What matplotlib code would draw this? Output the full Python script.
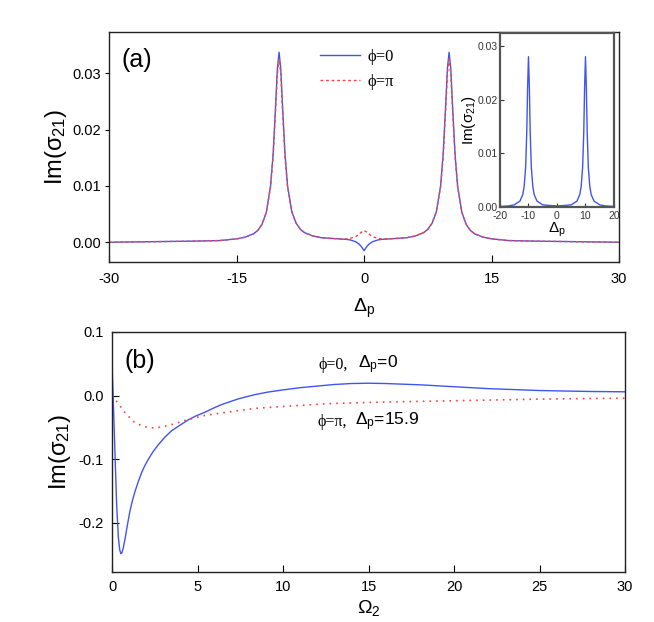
import numpy as np
import matplotlib
matplotlib.use("Agg")
import matplotlib.pyplot as plt
from matplotlib.ticker import FormatStrFormatter

plt.rcParams['font.family'] = ['Liberation Sans', 'DejaVu Sans']
plt.rcParams['mathtext.fontset'] = 'custom'
plt.rcParams['mathtext.rm'] = 'Liberation Sans'
plt.rcParams['mathtext.it'] = 'Liberation Sans'
plt.rcParams['axes.unicode_minus'] = False

# ---- panel (a): Im(sigma21) vs Delta_p ----
delta_a = [-30, -25, -20, -17, -15, -14, -13, -12.5, -12, -11.5, -11, -10.7, -10.4, -10.2, -10,
           -9.8, -9.6, -9.3, -9, -8.5, -8, -7.5, -7, -6, -5, -4, -3, -2, -1.6, -1, -0.6, -0.3, 0,
           0.3, 0.6, 1, 1.6, 2, 3, 4, 5, 6, 7, 7.5, 8, 8.5, 9, 9.3, 9.6, 9.8,
           10, 10.2, 10.4, 10.7, 11, 11.5, 12, 12.5, 13, 14, 15, 17, 20, 25, 30]
im_phi0 = [0.0000, 0.0001, 0.0002, 0.0003, 0.0006, 0.0009, 0.0015, 0.0021, 0.0032, 0.0053, 0.0100,
           0.0156, 0.0244, 0.0308, 0.0337,
           0.0308, 0.0244, 0.0156, 0.0100, 0.0054, 0.0034, 0.0023, 0.0017, 0.0011, 0.0008, 0.0007,
           0.0006, 0.0005, 0.0004, 0.0001, -0.0003, -0.0008, -0.0015,
           -0.0008, -0.0003, 0.0001, 0.0004, 0.0005, 0.0006, 0.0007, 0.0008, 0.0011, 0.0017, 0.0023,
           0.0034, 0.0054, 0.0100, 0.0156, 0.0244, 0.0308,
           0.0337, 0.0308, 0.0244, 0.0156, 0.0100, 0.0053, 0.0032, 0.0021, 0.0015, 0.0009, 0.0006,
           0.0003, 0.0002, 0.0001, 0.0000]
im_phipi = [0.0000, 0.0001, 0.0002, 0.0003, 0.0006, 0.0009, 0.0015, 0.0021, 0.0032, 0.0053, 0.0098,
            0.0152, 0.0237, 0.0298, 0.0325,
            0.0298, 0.0237, 0.0152, 0.0098, 0.0054, 0.0034, 0.0023, 0.0017, 0.0011, 0.0008, 0.0007,
            0.0006, 0.0006, 0.0007, 0.0010, 0.0014, 0.0018, 0.0021,
            0.0018, 0.0014, 0.0010, 0.0007, 0.0006, 0.0006, 0.0007, 0.0008, 0.0011, 0.0017, 0.0023,
            0.0034, 0.0054, 0.0098, 0.0152, 0.0237, 0.0298,
            0.0325, 0.0298, 0.0237, 0.0152, 0.0098, 0.0053, 0.0032, 0.0021, 0.0015, 0.0009, 0.0006,
            0.0003, 0.0002, 0.0001, 0.0000]

# inset
delta_in = [-20, -17, -15, -13, -12, -11.5, -11, -10.6, -10.3, -10, -9.7, -9.4, -9, -8.5, -8, -7,
            -5, -3, 0, 3, 5, 7, 8, 8.5, 9, 9.4, 9.7, 10, 10.3, 10.6, 11, 11.5, 12, 13, 15, 17, 20]
im_in = [0.0001, 0.0002, 0.0004, 0.0011, 0.0023, 0.0039, 0.0074, 0.0140, 0.0224, 0.0280, 0.0224,
         0.0140, 0.0074, 0.0039, 0.0023, 0.0011, 0.0004, 0.0003, 0.0002, 0.0003, 0.0004, 0.0011,
         0.0023, 0.0039, 0.0074, 0.0140, 0.0224, 0.0280, 0.0224, 0.0140, 0.0074, 0.0039, 0.0023,
         0.0011, 0.0004, 0.0002, 0.0001]

# ---- panel (b): Im(sigma21) vs Omega_2 ----
omega_b0 = [0, 0.09, 0.18, 0.27, 0.37, 0.45, 0.51, 0.57, 0.65, 0.76, 0.9, 1.05, 1.2, 1.35, 1.55,
            1.73, 1.9, 2.12, 2.4, 2.71, 3.1, 3.49, 4.0, 4.46, 4.9, 5.44, 5.9, 6.41, 6.9, 7.4, 7.9,
            8.36, 9.1, 10, 11, 12, 13, 14, 15, 16, 17, 18, 20, 22, 25, 28, 30]
im_b0 = [0.051, -0.022, -0.097, -0.171, -0.223, -0.242, -0.248, -0.2475, -0.240, -0.225, -0.203,
         -0.181, -0.164, -0.150, -0.134, -0.121, -0.111, -0.100, -0.088, -0.077, -0.065, -0.055,
         -0.046, -0.038, -0.032, -0.026, -0.020, -0.014, -0.0095, -0.005, -0.0015, 0.0016, 0.0055,
         0.009, 0.0125, 0.015, 0.0175, 0.019, 0.0195, 0.019, 0.018, 0.017, 0.014, 0.011, 0.008,
         0.0065, 0.006]
omega_bpi = [0, 0.27, 0.76, 1.35, 1.93, 2.52, 3.3, 4.27, 5.44, 7.4, 8.36, 10, 12.7, 16, 20, 22,
             25, 28, 30]
im_bpi = [0.0, -0.009, -0.027, -0.043, -0.049, -0.051, -0.047, -0.039, -0.031, -0.0235, -0.020,
          -0.017, -0.0125, -0.010, -0.008, -0.007, -0.0055, -0.0045, -0.004]

blue = '#3f55ee'
red = '#ff4040'
serif = ['Liberation Serif', 'DejaVu Serif']

fig = plt.figure(figsize=(6.54, 6.22), dpi=100)
ax1 = fig.add_axes([0.1667, 0.5788, 0.780, 0.3698])
ax2 = fig.add_axes([0.1713, 0.0804, 0.7844, 0.3859])
axin = fig.add_axes([0.7645, 0.6672, 0.1743, 0.2797])

# panel (a)
l1, = ax1.plot(delta_a, im_phi0, color=blue, lw=1.0)
l2, = ax1.plot(delta_a, im_phipi, color=red, lw=1.0, ls=(0, (2, 2)))
ax1.set_xlim(-30, 30)
ax1.set_ylim(-0.0035, 0.0373)
ax1.set_xticks([-30, -15, 0, 15, 30])
ax1.set_yticks([0, 0.01, 0.02, 0.03])
ax1.yaxis.set_major_formatter(FormatStrFormatter('%.2f'))
ax1.tick_params(axis='x', direction='in', length=5, pad=7, labelsize=10.5)
ax1.tick_params(axis='y', direction='out', length=3, pad=3, labelsize=10.5)
ax1.set_xlabel(r'$\Delta_p$', fontsize=14, labelpad=8)
ax1.set_ylabel(r'Im($\sigma_{21}$)', fontsize=17, labelpad=2)
ax1.text(0.025, 0.93, '(a)', transform=ax1.transAxes, fontsize=18, va='top', ha='left')
leg = ax1.legend([l1, l2], ['ϕ=0', 'ϕ=π'], loc='upper left', bbox_to_anchor=(0.385, 0.99),
                 frameon=False, prop={'family': serif, 'size': 12}, handlelength=2.4,
                 handletextpad=0.4, labelspacing=0.5)

# inset
axin.plot(delta_in, im_in, color=blue, lw=1.0)
axin.set_xlim(-20, 20)
axin.set_ylim(0, 0.0324)
axin.set_xticks([-20, -10, 0, 10, 20])
axin.set_yticks([0, 0.01, 0.02, 0.03])
axin.yaxis.set_major_formatter(FormatStrFormatter('%.2f'))
axin.tick_params(direction='in', length=3, labelsize=7.5, colors='#333333')
axin.tick_params(axis='x', pad=3)
axin.tick_params(axis='y', pad=1.5)
for s in axin.spines.values():
    s.set_linewidth(1.6)
    s.set_color('#555555')
axin.set_xlabel(r'$\Delta_p$', fontsize=11, labelpad=0)
axin.set_ylabel(r'Im($\sigma_{21}$)', fontsize=11, labelpad=0)

# panel (b)
ax2.plot(omega_b0, im_b0, color=blue, lw=1.0)
ax2.plot(omega_bpi, im_bpi, color=red, lw=1.2, ls=(0, (1, 3)))
ax2.set_xlim(0, 30)
ax2.set_ylim(-0.277, 0.1)
ax2.set_xticks([0, 5, 10, 15, 20, 25, 30])
ax2.set_yticks([-0.2, -0.1, 0.0, 0.1])
ax2.yaxis.set_major_formatter(FormatStrFormatter('%.1f'))
ax2.tick_params(direction='in', length=5, pad=6, labelsize=10.5)
ax2.set_xlabel(r'$\Omega_2$', fontsize=14, labelpad=3)
ax2.set_ylabel(r'Im($\sigma_{21}$)', fontsize=17, labelpad=4)
ax2.text(0.025, 0.93, '(b)', transform=ax2.transAxes, fontsize=18, va='top', ha='left')
ax2.text(12.05, 0.0486, 'ϕ=0,', family=serif, fontsize=11.5, va='center', ha='left')
ax2.text(14.4, 0.0486, r'$\Delta_p$=0', fontsize=12.5, va='center', ha='left')
ax2.text(12.0, -0.041, 'ϕ=π,', family=serif, fontsize=11.5, va='center', ha='left')
ax2.text(14.2, -0.041, r'$\Delta_p$=15.9', fontsize=12.5, va='center', ha='left')

for ax in (ax1, ax2):
    for s in ax.spines.values():
        s.set_linewidth(1.0)
        s.set_color('#222222')

fig.savefig('out.png', dpi=100)
